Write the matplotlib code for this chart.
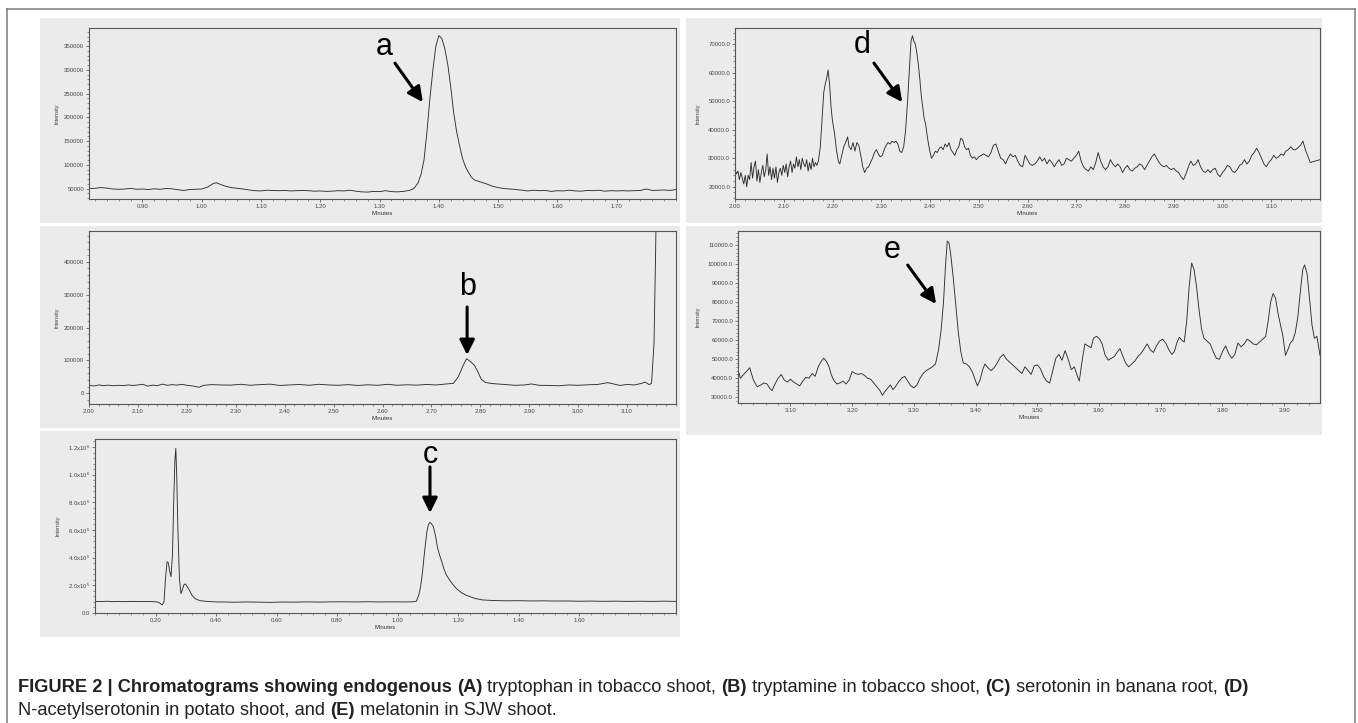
import matplotlib
matplotlib.use('Agg')
import matplotlib.pyplot as plt
from matplotlib.patches import Rectangle
from matplotlib.lines import Line2D
from matplotlib.ticker import MultipleLocator, FuncFormatter

#==============================================================================#
# values (minutes, intensity)

a_time = [0.81, 0.82, 0.83, 0.84, 0.85, 0.86, 0.87, 0.88, 0.89, 0.90, 0.91, 0.92,
          0.93, 0.94, 0.95, 0.96, 0.97, 0.98, 0.99, 1.00, 1.01, 1.02, 1.025, 1.03,
          1.04, 1.05, 1.06, 1.07, 1.08, 1.09, 1.10, 1.11, 1.12, 1.13, 1.14, 1.15,
          1.16, 1.17, 1.18, 1.19, 1.20, 1.21, 1.22, 1.23, 1.24, 1.25, 1.26, 1.27,
          1.28, 1.29, 1.30, 1.31, 1.32, 1.33, 1.34, 1.35, 1.358, 1.365, 1.37, 1.375,
          1.38, 1.385, 1.39, 1.395, 1.40, 1.405, 1.41, 1.415, 1.42, 1.425, 1.43,
          1.435, 1.44, 1.445, 1.45, 1.455, 1.46, 1.47, 1.48, 1.49, 1.50, 1.51, 1.52,
          1.53, 1.54, 1.55, 1.56, 1.57, 1.58, 1.59, 1.60, 1.61, 1.62, 1.63, 1.64,
          1.65, 1.66, 1.67, 1.68, 1.69, 1.70, 1.71, 1.72, 1.73, 1.74, 1.75, 1.76,
          1.77, 1.78, 1.79, 1.80]
a_int = [50000, 50500, 52000, 51000, 49000, 48500, 49000, 50500, 48500, 49000, 48000, 49500,
         48500, 50000, 49500, 47500, 46000, 48000, 48500, 49000, 53000, 61000, 62000, 59500,
         55000, 52000, 50500, 49000, 47000, 45500, 45000, 46500, 46000, 45500, 46000, 45000,
         45500, 46000, 45500, 44500, 45000, 44000, 44500, 45500, 45000, 46500, 44500, 43000,
         42500, 44000, 43500, 45500, 43500, 43000, 44000, 46000, 50000, 62000, 80000, 110000,
         170000, 240000, 300000, 350000, 372000, 366000, 345000, 312000, 265000, 210000, 170000,
         140000, 113000, 96000, 84000, 74000, 68000, 64000, 60000, 55000, 52000, 50000, 49000,
         48000, 46500, 45000, 46500, 45500, 46000, 44000, 45500, 45000, 46500, 45000, 44500,
         46000, 45500, 46500, 44500, 45500, 45000, 45500, 45000, 45500, 46000, 49000, 46000,
         46500, 47000, 46000, 48000]

b_time = [2.00, 2.01, 2.02, 2.03, 2.04, 2.05, 2.06, 2.07, 2.08, 2.09, 2.10, 2.11, 2.12,
          2.13, 2.14, 2.15, 2.16, 2.17, 2.18, 2.19, 2.20, 2.21, 2.225, 2.235, 2.25, 2.27,
          2.29, 2.31, 2.33, 2.35, 2.37, 2.39, 2.41, 2.43, 2.45, 2.47, 2.49, 2.51, 2.53,
          2.55, 2.57, 2.59, 2.61, 2.63, 2.65, 2.67, 2.69, 2.71, 2.73, 2.745, 2.755, 2.765,
          2.772, 2.78, 2.788, 2.795, 2.802, 2.81, 2.82, 2.835, 2.85, 2.87, 2.89, 2.905,
          2.92, 2.94, 2.96, 2.98, 3.00, 3.02, 3.04, 3.06, 3.07, 3.085, 3.10, 3.115, 3.13,
          3.137, 3.145, 3.150, 3.155, 3.158, 3.161, 3.165, 3.20]
b_int = [24000, 22000, 25000, 23000, 24500, 22500, 24000, 23000, 25000, 23500, 25000, 27000, 21500,
         24500, 23000, 27500, 24000, 26000, 24500, 27000, 24000, 22500, 18000, 24000, 26000, 25000,
         24500, 27000, 24000, 26000, 27500, 23500, 25000, 26500, 24000, 27000, 25000, 24000, 26000,
         23500, 25500, 24000, 27000, 24000, 25500, 24500, 26500, 25000, 28000, 30000, 50000, 85000,
         105000, 96000, 85000, 65000, 42000, 33000, 30000, 28000, 26500, 24000, 25000, 28000,
         24000, 23500, 22500, 25000, 24000, 25500, 26500, 32000, 29000, 23500, 26500, 25000, 30000,
         34000, 26000, 30000, 150000, 400000, 700000, 900000, 1000000]

c_time = [0.00, 0.02, 0.04, 0.06, 0.08, 0.10, 0.12, 0.14, 0.16, 0.18, 0.20, 0.21, 0.222,
          0.228, 0.233, 0.238, 0.242, 0.247, 0.251, 0.256, 0.260, 0.264, 0.267, 0.270,
          0.274, 0.279, 0.284, 0.289, 0.294, 0.299, 0.305, 0.312, 0.320, 0.330, 0.340,
          0.35, 0.37, 0.40, 0.43, 0.46, 0.50, 0.54, 0.58, 0.62, 0.66, 0.70, 0.74, 0.78,
          0.82, 0.86, 0.90, 0.94, 0.98, 1.02, 1.05, 1.062, 1.07, 1.076, 1.082, 1.087,
          1.092, 1.097, 1.102, 1.107, 1.112, 1.118, 1.125, 1.132, 1.14, 1.146, 1.153,
          1.16, 1.17, 1.181, 1.195, 1.209, 1.225, 1.244, 1.26, 1.279, 1.30, 1.32, 1.36,
          1.40, 1.44, 1.48, 1.52, 1.56, 1.60, 1.64, 1.68, 1.72, 1.76, 1.80, 1.84, 1.88, 1.92]
c_int = [84000, 83000, 85000, 82000, 83500, 82000, 84000, 83000, 82500, 83000, 81000, 78000, 58000,
         80000, 250000, 370000, 365000, 300000, 262000, 420000, 800000, 1100000, 1190000, 1000000,
         600000, 250000, 140000, 170000, 205000, 210000, 190000, 165000, 130000, 105000, 95000,
         88000, 84000, 80000, 79500, 78000, 80000, 78500, 77000, 79500, 78500, 80500, 79000, 80500,
         81000, 80000, 81500, 80000, 80500, 80000, 81000, 85000, 130000, 190000, 290000, 400000,
         500000, 590000, 640000, 655000, 645000, 626000, 560000, 471000, 410000, 370000, 320000,
         280000, 245000, 210000, 175000, 150000, 130000, 114000, 103000, 95000, 92000, 90000, 88000,
         89000, 87000, 88000, 86500, 87000, 85000, 86000, 84500, 85500, 84000, 85000, 84000, 85500, 84000]

d_time = [2.000, 2.003, 2.006, 2.009, 2.012, 2.015, 2.018, 2.021, 2.024, 2.027, 2.030, 2.033,
          2.036, 2.039, 2.042, 2.045, 2.048, 2.051, 2.054, 2.057, 2.060, 2.063, 2.066, 2.069,
          2.072, 2.075, 2.078, 2.081, 2.084, 2.087, 2.090, 2.093, 2.096, 2.099, 2.102, 2.105,
          2.108, 2.111, 2.114, 2.117, 2.120, 2.123, 2.126, 2.129, 2.132, 2.135, 2.138, 2.141,
          2.144, 2.147, 2.150, 2.153, 2.156, 2.159, 2.162, 2.165, 2.168, 2.171, 2.175, 2.178,
          2.182, 2.185, 2.188, 2.191, 2.194, 2.197, 2.200, 2.204, 2.208, 2.212, 2.215, 2.219,
          2.223, 2.227, 2.231, 2.234, 2.238, 2.242, 2.246, 2.250, 2.254, 2.258, 2.262, 2.266,
          2.270, 2.274, 2.278, 2.282, 2.286, 2.290, 2.294, 2.298, 2.302, 2.306, 2.310, 2.314,
          2.318, 2.322, 2.326, 2.330, 2.334, 2.338, 2.342, 2.346, 2.350, 2.354, 2.358, 2.361,
          2.364, 2.367, 2.370, 2.373, 2.376, 2.379, 2.382, 2.385, 2.388, 2.391, 2.395, 2.399,
          2.403, 2.407, 2.411, 2.415, 2.419, 2.423, 2.427, 2.431, 2.435, 2.439, 2.443, 2.447,
          2.451, 2.455, 2.459, 2.463, 2.467, 2.471, 2.475, 2.479, 2.483, 2.487, 2.491, 2.495,
          2.500, 2.505, 2.510, 2.515, 2.520, 2.525, 2.530, 2.535, 2.540, 2.545, 2.550, 2.555,
          2.560, 2.565, 2.570, 2.575, 2.580, 2.585, 2.590, 2.595, 2.600, 2.605, 2.610, 2.615,
          2.620, 2.625, 2.630, 2.635, 2.640, 2.645, 2.650, 2.655, 2.660, 2.665, 2.670, 2.675,
          2.680, 2.685, 2.690, 2.695, 2.700, 2.705, 2.710, 2.715, 2.720, 2.725, 2.730, 2.735,
          2.740, 2.745, 2.750, 2.755, 2.760, 2.765, 2.770, 2.775, 2.780, 2.785, 2.790, 2.795,
          2.800, 2.805, 2.810, 2.815, 2.820, 2.825, 2.830, 2.835, 2.840, 2.845, 2.850, 2.855,
          2.860, 2.865, 2.870, 2.875, 2.880, 2.885, 2.890, 2.895, 2.900, 2.905, 2.910, 2.915,
          2.920, 2.925, 2.930, 2.935, 2.940, 2.945, 2.950, 2.955, 2.960, 2.965, 2.970, 2.975,
          2.980, 2.985, 2.990, 2.995, 3.000, 3.005, 3.010, 3.015, 3.020, 3.025, 3.030, 3.035,
          3.040, 3.045, 3.050, 3.055, 3.060, 3.065, 3.070, 3.075, 3.080, 3.085, 3.090, 3.095,
          3.100, 3.105, 3.110, 3.115, 3.120, 3.125, 3.130, 3.135, 3.140, 3.145, 3.150, 3.160,
          3.165, 3.170, 3.180, 3.190, 3.200]
d_int = [26000, 24500, 25500, 22500, 25000, 23000, 21000, 24000, 20000, 24000, 22500, 28500,
         23000, 27000, 29000, 22000, 26000, 21500, 25000, 27500, 23500, 26000, 31500, 24000,
         27000, 22500, 26500, 23000, 27000, 21500, 25000, 26500, 24000, 27500, 25000, 28000,
         23500, 27000, 29000, 25000, 28000, 26500, 30500, 27000, 29500, 26000, 30000, 28000,
         27000, 29500, 25500, 28500, 26000, 30000, 27000, 28500, 27500, 29000, 34000, 42000,
         53000, 56000, 58000, 61000, 56000, 48000, 43000, 39000, 33000, 29000, 28000, 31000,
         34000, 35500, 37500, 34000, 33000, 35500, 32500, 35500, 34500, 31000, 27000, 25000,
         26500, 27000, 28500, 30000, 32000, 33000, 31500, 30500, 31000, 33000, 34500, 35500,
         35000, 36000, 35500, 36000, 35000, 32500, 32000, 34000, 40000, 50000, 62000, 71000,
         73000, 71000, 70000, 67000, 63000, 58000, 52000, 48000, 44000, 42000, 37000, 33000,
         30000, 31000, 32500, 32000, 33500, 34000, 33000, 35000, 34000, 35500, 33000, 32000,
         31000, 33000, 34000, 37000, 36500, 34000, 33000, 33500, 31000, 30000, 30500, 29500,
         30500, 31000, 31500, 31000, 30500, 32000, 34500, 35000, 32500, 30000, 29500, 28000,
         30000, 31500, 30500, 31000, 29000, 27500, 27000, 31000, 29500, 28000, 27500, 28000,
         29000, 30500, 29000, 30000, 28000, 29500, 28500, 27000, 28500, 29500, 27500, 28000,
         30000, 29500, 29000, 30000, 31000, 32500, 29000, 27000, 26000, 25500, 27000, 26000,
         28500, 32000, 29000, 27000, 26000, 27000, 29500, 28000, 27000, 28000, 27000, 25000,
         26500, 27500, 26000, 25500, 26500, 27000, 28000, 27500, 26000, 27500, 29000, 30500,
         31500, 30000, 28500, 27500, 27000, 27500, 26500, 26000, 26500, 25500, 25000, 23500,
         22500, 24500, 27000, 29000, 27500, 28000, 29500, 27000, 25500, 25000, 26000, 25000,
         26000, 26500, 24500, 23500, 25000, 26000, 27500, 27000, 25500, 25000, 26000, 27500,
         28000, 29500, 28000, 29000, 31000, 32000, 33500, 32000, 30000, 28000, 27000, 28500,
         29500, 31000, 30000, 30500, 31500, 31000, 32500, 33000, 34000, 33000, 33000, 34500,
         36000, 33000, 28500, 29000, 29500]

e_time = [3.015, 3.019, 3.024, 3.030, 3.034, 3.040, 3.046, 3.052, 3.057, 3.062, 3.067, 3.070,
          3.075, 3.080, 3.085, 3.090, 3.095, 3.100, 3.105, 3.110, 3.115, 3.120, 3.125, 3.130,
          3.135, 3.140, 3.145, 3.150, 3.154, 3.158, 3.162, 3.166, 3.170, 3.175, 3.180, 3.185,
          3.190, 3.195, 3.200, 3.205, 3.210, 3.215, 3.220, 3.225, 3.230, 3.235, 3.240, 3.245,
          3.249, 3.253, 3.258, 3.262, 3.266, 3.270, 3.275, 3.280, 3.285, 3.290, 3.295, 3.300,
          3.305, 3.310, 3.315, 3.320, 3.325, 3.330, 3.335, 3.340, 3.344, 3.348, 3.351, 3.354,
          3.357, 3.360, 3.364, 3.368, 3.372, 3.376, 3.380, 3.385, 3.390, 3.395, 3.400, 3.403,
          3.407, 3.411, 3.415, 3.420, 3.425, 3.430, 3.435, 3.440, 3.445, 3.450, 3.455, 3.460,
          3.465, 3.470, 3.475, 3.480, 3.485, 3.490, 3.495, 3.500, 3.505, 3.510, 3.515, 3.520,
          3.525, 3.530, 3.535, 3.540, 3.545, 3.550, 3.555, 3.560, 3.565, 3.568, 3.572, 3.577,
          3.582, 3.587, 3.591, 3.596, 3.601, 3.605, 3.610, 3.615, 3.620, 3.625, 3.630, 3.634,
          3.638, 3.643, 3.648, 3.653, 3.658, 3.663, 3.668, 3.673, 3.678, 3.683, 3.688, 3.693,
          3.698, 3.703, 3.708, 3.713, 3.718, 3.722, 3.726, 3.730, 3.734, 3.738, 3.742, 3.746,
          3.750, 3.754, 3.758, 3.762, 3.766, 3.770, 3.775, 3.780, 3.785, 3.790, 3.795, 3.800,
          3.805, 3.810, 3.815, 3.820, 3.825, 3.830, 3.835, 3.840, 3.845, 3.850, 3.855, 3.860,
          3.865, 3.870, 3.874, 3.878, 3.882, 3.886, 3.890, 3.894, 3.898, 3.902, 3.906, 3.910,
          3.914, 3.918, 3.922, 3.926, 3.930, 3.933, 3.937, 3.941, 3.945, 3.949, 3.953, 3.958]
e_int = [44500, 40000, 42000, 44000, 45500, 39000, 35500, 36500, 37500, 37000, 34500, 33500,
         37000, 40000, 42000, 39000, 38000, 39500, 38000, 37000, 36000, 38500, 40500, 40000,
         42500, 41000, 46000, 49000, 50500, 49000, 46500, 42000, 39000, 37000, 37500, 38500,
         37000, 39000, 43500, 42500, 42000, 42500, 41500, 40000, 39500, 37500, 35500, 33500,
         31000, 33000, 35000, 36500, 34000, 35500, 38000, 40000, 41000, 38500, 36000, 35000,
         36500, 40000, 42500, 44000, 45000, 46000, 47500, 55000, 65000, 80000, 98000, 112000,
         111000, 104000, 92000, 78000, 64000, 54000, 48000, 47500, 46000, 43000, 38500, 36000,
         39000, 44000, 47500, 45500, 44000, 45500, 48000, 51000, 52500, 50000, 48500, 47000,
         45500, 44000, 42500, 46000, 44000, 42000, 46500, 47000, 45000, 41000, 38500, 37500,
         44000, 50500, 52500, 49500, 54500, 50000, 44500, 46000, 41000, 38500, 48000, 58000,
         57000, 56000, 61000, 62000, 60500, 58000, 52000, 49500, 50500, 51500, 54000, 55500,
         52000, 48000, 46000, 47500, 49000, 51500, 53000, 55500, 58000, 55000, 53500, 57000,
         59500, 60500, 58500, 55000, 52500, 54000, 58500, 61500, 60000, 59000, 70000, 88000,
         100500, 97000, 88000, 76000, 66000, 61000, 59500, 58000, 54000, 50500, 50000, 54000,
         57000, 53000, 50500, 52500, 58500, 56500, 58000, 60500, 59500, 58000, 57500, 59000,
         60500, 62000, 70000, 80000, 84500, 82000, 74000, 68000, 62000, 52000, 55000, 58500,
         60000, 64000, 72000, 85000, 97000, 99500, 95000, 82000, 68000, 61000, 62000, 52000]

# axis labels as printed
a_xticks = [0.90, 1.00, 1.10, 1.20, 1.30, 1.40, 1.50, 1.60, 1.70]
b_xticks = [2.00, 2.10, 2.20, 2.30, 2.40, 2.50, 2.60, 2.70, 2.80, 2.90, 3.00, 3.10]
c_xticks = [0.20, 0.40, 0.60, 0.80, 1.00, 1.20, 1.40, 1.60]
d_xticks = b_xticks
e_xticks = [3.10, 3.20, 3.30, 3.40, 3.50, 3.60, 3.70, 3.80, 3.90]
a_yticks = [50000, 100000, 150000, 200000, 250000, 300000, 350000]
b_yticks = [0, 100000, 200000, 300000, 400000]
c_yticks = [0, 200000, 400000, 600000, 800000, 1000000, 1200000]
c_ylabels = ['0.0', '2.0x10$^5$', '4.0x10$^5$', '6.0x10$^5$', '8.0x10$^5$',
             '1.0x10$^6$', '1.2x10$^6$']
d_yticks = [20000, 30000, 40000, 50000, 60000, 70000]
e_yticks = [30000, 40000, 50000, 60000, 70000, 80000, 90000, 100000, 110000]

caption1 = [("FIGURE 2 | Chromatograms showing endogenous ", True), ("(A)", True),
            (" tryptophan in tobacco shoot, ", False), ("(B)", True),
            (" tryptamine in tobacco shoot, ", False), ("(C)", True),
            (" serotonin in banana root, ", False), ("(D)", True)]
caption2 = [("N-acetylserotonin in potato shoot, and ", False), ("(E)", True),
            (" melatonin in SJW shoot.", False)]

#==============================================================================#

W, H = 1358, 723
PANEL = '#ebebeb'
INK = '#2e2e2e'

plt.rcParams['font.family'] = ['Liberation Sans', 'DejaVu Sans']
plt.rcParams['mathtext.fontset'] = 'custom'
plt.rcParams['mathtext.rm'] = 'Liberation Sans'


def px_rect(x0, y0, x1, y1):
    return [x0 / W, 1 - y1 / H, (x1 - x0) / W, (y1 - y0) / H]


def panel_bg(fig, x0, y0, x1, y1):
    fig.patches.append(Rectangle((x0 / W, 1 - y1 / H), (x1 - x0) / W, (y1 - y0) / H,
                                 transform=fig.transFigure, facecolor=PANEL,
                                 edgecolor='none', zorder=-5))


def chromatogram(fig, box, t, y, xlim, ylim, xticks, xminor, yticks, yminor, yfmt, ylab_x):
    ax = fig.add_axes(px_rect(*box))
    ax.set_facecolor(PANEL)
    ax.plot(t, y, color=INK, lw=0.65)
    ax.set_xlim(*xlim)
    ax.set_ylim(*ylim)
    ax.set_xticks(xticks)
    ax.set_xticklabels(['%.2f' % v for v in xticks])
    ax.xaxis.set_minor_locator(MultipleLocator(xminor))
    ax.set_yticks(yticks)
    if isinstance(yfmt, list):
        ax.set_yticklabels(yfmt)
    else:
        ax.yaxis.set_major_formatter(FuncFormatter(lambda v, p: yfmt % v))
    ax.yaxis.set_minor_locator(MultipleLocator(yminor))
    ax.tick_params(which='major', direction='out', length=2.5, width=0.5,
                   colors='#444444', labelsize=4.3, pad=1)
    ax.tick_params(which='minor', direction='out', length=1.3, width=0.4, colors='#444444')
    for s in ax.spines.values():
        s.set_color('#555555')
        s.set_linewidth(0.8)
    ax.set_xlabel('Minutes', fontsize=4.3, labelpad=1.5, color='#333333')
    cy = (box[1] + box[3]) / 2
    fig.text(ylab_x / W, 1 - cy / H, 'Intensity', rotation=90, fontsize=4,
             ha='center', va='center', color='#444444')
    return ax


def mark(ax, label, txt_xy, tail, tip):
    ax.text(txt_xy[0], txt_xy[1], label, fontsize=22, ha='center', va='center',
            color='black')
    ax.annotate('', xy=tip, xytext=tail,
                arrowprops=dict(arrowstyle='-|>,head_length=0.9,head_width=0.45',
                                lw=2.2, color='black', mutation_scale=10,
                                shrinkA=0, shrinkB=0))


def caption(fig, runs, x_px, base_px, size):
    renderer = fig.canvas.get_renderer()
    x = x_px
    for txt, bold in runs:
        t = fig.text(x / W, 1 - base_px / H, txt, fontsize=size, va='baseline',
                     fontweight='bold' if bold else 'normal', color='#222222')
        x += t.get_window_extent(renderer).width


def run_width(fig, runs, size):
    renderer = fig.canvas.get_renderer()
    w = 0
    for txt, bold in runs:
        t = fig.text(0, 0, txt, fontsize=size, fontweight='bold' if bold else 'normal')
        w += t.get_window_extent(renderer).width
        t.remove()
    return w


def main():
    fig = plt.figure(figsize=(W / 100, H / 100), dpi=100)
    fig.patch.set_facecolor('white')

    # outer frame, open at the bottom
    for xs, ys in [([7, 7], [9, H]), ([7, 1355], [9, 9]), ([1355, 1355], [9, H])]:
        fig.add_artist(Line2D([v / W for v in xs], [1 - v / H for v in ys],
                              transform=fig.transFigure, color='#7a7a7a', lw=1.1))

    panel_bg(fig, 40, 18, 680, 223)
    panel_bg(fig, 686, 18, 1322, 223)
    panel_bg(fig, 40, 226, 680, 428)
    panel_bg(fig, 686, 226, 1322, 435)
    panel_bg(fig, 40, 431, 680, 637)

    ax_a = chromatogram(fig, (89, 28, 676, 199), a_time, a_int, (0.81, 1.80), (28000, 388000),
                        a_xticks, 0.02, a_yticks, 10000, '%d', 57)
    mark(ax_a, 'a', (1.308, 348000), (1.326, 314000), (1.373, 232000))

    ax_d = chromatogram(fig, (735, 28, 1320, 199), d_time, d_int, (2.00, 3.20), (15700, 75700),
                        d_xticks, 0.02, d_yticks, 2000, '%.1f', 698)
    mark(ax_d, 'd', (2.260, 69700), (2.285, 63400), (2.343, 49700))

    ax_b = chromatogram(fig, (89, 231, 676, 404), b_time, b_int, (2.00, 3.20), (-33000, 494000),
                        b_xticks, 0.02, b_yticks, 20000, '%d', 57)
    mark(ax_b, 'b', (2.773, 323000), (2.773, 262500), (2.773, 116300))

    ax_e = chromatogram(fig, (738, 231, 1320, 403), e_time, e_int, (3.015, 3.958), (27000, 117300),
                        e_xticks, 0.02, e_yticks, 2000, '%.1f', 698)
    mark(ax_e, 'e', (3.265, 107300), (3.290, 99400), (3.336, 79000))

    ax_c = chromatogram(fig, (95, 439, 676, 613), c_time, c_int, (0.0, 1.92), (0, 1258000),
                        c_xticks, 0.04, c_yticks, 40000, c_ylabels, 58)
    mark(ax_c, 'c', (1.107, 1142000), (1.107, 1056000), (1.107, 723000))

    size = 10 * 1234 / run_width(fig, caption1, 10)
    caption(fig, caption1, 18, 692, size)
    caption(fig, caption2, 18, 715, size)

    fig.savefig('out.png', dpi=100, facecolor='white')


if __name__ == '__main__':
    main()
